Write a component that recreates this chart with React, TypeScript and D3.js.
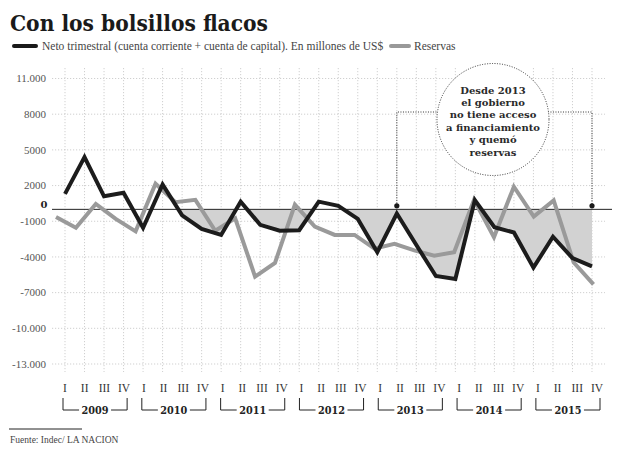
import React from "react";
import * as d3 from "d3";

const years = ["2009", "2010", "2011", "2012", "2013", "2014", "2015"];
const quarters = ["I", "II", "III", "IV"];
const neto = [1300, 4400, 1100, 1400, -1550, 2100, -500, -1650, -2150, 650, -1300, -1800, -1750, 650, 300, -800, -3600, -350, -3000, -5600, -5850, 780, -1500, -1950, -4900, -2300, -4100, -4800];
const reservas = [-650, -1550, 450, -800, -1850, 2150, 600, 800, -1800, -750, -5650, -4500, 400, -1450, -2150, -2150, -3300, -2900, -3450, -3900, -3600, 800, -2350, 1900, -600, 750, -4450, -6300];
const yTicks = [11000, 8000, 5000, 2000, -1000, -4000, -7000, -10000, -13000];
const yTickLabels = ["11.000", "8000", "5000", "2000", "-1000", "-4000", "-7000", "-10.000", "-13.000"];
const annotationLines = ["Desde 2013", "el gobierno", "no tiene acceso", "a financiamiento", "y quemó", "reservas"];
const shadeStart = 5;
const annotStart = 17;

const SERIF = "'Liberation Serif', 'DejaVu Serif', serif";
const SLAB = "'DejaVu Serif', 'Liberation Serif', serif";

export default function App() {
  const W = 620, H = 455;
  const y = d3.scaleLinear().domain([-13000, 11000]).range([364, 78.5]);
  const n = neto.length;
  const xB = d3.scaleLinear().domain([0, n - 1]).range([65, 592]);
  const xG = d3.scaleLinear().domain([0, n - 1]).range([56, 593.5]);
  const xL = d3.scaleLinear().domain([0, n - 1]).range([65, 597]);
  const y0 = y(0);

  const lineB = d3.line<number>().x((_, i) => xB(i)).y((d) => y(d));
  const lineG = d3.line<number>().x((_, i) => xG(i)).y((d) => y(d));
  const shadeData = neto.map((v, i) => ({ i, v })).filter((d) => d.i >= shadeStart);
  const area = d3
    .area<{ i: number; v: number }>()
    .x((d) => xB(d.i))
    .y0(y0)
    .y1((d) => y(d.v));

  const circ = { cx: 493, cy: 119.5, r: 56 };
  const bracketY = 112;
  const dotY = y0 - 3.5;

  return (
    <svg width={W} height={H} style={{ position: "absolute", left: 0, top: 0, background: "#fff" }}>
      <defs>
        <clipPath id="below0">
          <rect x={0} y={y0} width={W} height={H - y0} />
        </clipPath>
      </defs>
      <rect x={0} y={0} width={W} height={H} fill="#fff" />
      {/* title */}
      <text x={10} y={31} fontFamily={SLAB} fontWeight="bold" fontSize={22} fill="#1a1a1a" textLength={258} lengthAdjust="spacingAndGlyphs">
        Con los bolsillos flacos
      </text>
      {/* legend */}
      <line x1={14} x2={36} y1={46} y2={46} stroke="#1a1a1a" strokeWidth={4} strokeLinecap="round" />
      <text x={42} y={50} fontFamily={SERIF} fontSize={11.5} fill="#444">
        Neto trimestral (cuenta corriente + cuenta de capital). En millones de US$
      </text>
      <line x1={391} x2={409} y1={46} y2={46} stroke="#999" strokeWidth={4} strokeLinecap="round" />
      <text x={414} y={50} fontFamily={SERIF} fontSize={11.5} fill="#444">
        Reservas
      </text>

      {/* vertical gridlines */}
      {neto.map((_, i) => (
        <line key={"vg" + i} x1={xB(i)} x2={xB(i)} y1={68} y2={372} stroke="#bbb" strokeWidth={0.7} strokeDasharray="1.2,1.8" />
      ))}
      {/* horizontal gridlines */}
      {yTicks.map((t, i) => (
        <g key={"hg" + i}>
          <line x1={52} x2={605} y1={y(t)} y2={y(t)} stroke="#bbb" strokeWidth={0.7} strokeDasharray="1.2,1.8" />
          <text x={46} y={y(t)} dy="0.35em" textAnchor="end" fontFamily={SERIF} fontSize={11} fill="#555">
            {yTickLabels[i]}
          </text>
        </g>
      ))}
      <text x={44} y={y0 - 1} textAnchor="middle" fontFamily={SLAB} fontWeight="bold" fontSize={10} fill="#222">
        0
      </text>

      {/* shaded area */}
      <path d={area(shadeData) || ""} fill="#d2d2d2" clipPath="url(#below0)" />

      {/* zero line */}
      <line x1={52} x2={612} y1={y0} y2={y0} stroke="#222" strokeWidth={1} />

      {/* annotation bracket */}
      <path
        d={`M${xB(annotStart)},${dotY} V${bracketY} H${xB(n - 1)} V${dotY}`}
        fill="none"
        stroke="#333"
        strokeWidth={1}
        strokeDasharray="1,1.5"
      />
      <circle cx={xB(annotStart)} cy={dotY} r={2.6} fill="#1a1a1a" />
      <circle cx={xB(n - 1)} cy={dotY} r={2.6} fill="#1a1a1a" />
      <circle cx={circ.cx} cy={circ.cy} r={circ.r} fill="#fff" stroke="#333" strokeWidth={1} strokeDasharray="1,1.5" />
      {annotationLines.map((l, i) => (
        <text key={"a" + i} x={circ.cx} y={93.5 + i * 12.4} textAnchor="middle" fontFamily={SLAB} fontWeight="bold" fontSize={10} fill="#2a2a2a">
          {l}
        </text>
      ))}

      {/* series */}
      <path d={lineG(reservas) || ""} fill="none" stroke="#9a9a9a" strokeWidth={4} strokeLinejoin="miter" />
      <path d={lineB(neto) || ""} fill="none" stroke="#1c1c1c" strokeWidth={4} strokeLinejoin="miter" />

      {/* x labels */}
      {neto.map((_, i) => (
        <text key={"q" + i} x={xL(i)} y={392} textAnchor="middle" fontFamily={SERIF} fontSize={11.5} fill="#333">
          {quarters[i % 4]}
        </text>
      ))}
      {years.map((yr, k) => {
        const a = xL(k * 4) - 2;
        const b = xL(k * 4 + 3) + 3;
        const m = (a + b) / 2;
        return (
          <g key={"yr" + k}>
            <path d={`M${a},398 V410 H${b} V398`} fill="none" stroke="#222" strokeWidth={1} />
            <rect x={m - 16} y={403} width={32} height={12} fill="#fff" />
            <text x={m} y={414} textAnchor="middle" fontFamily={SLAB} fontWeight="bold" fontSize={11} fill="#222" textLength={27} lengthAdjust="spacingAndGlyphs">
              {yr}
            </text>
          </g>
        );
      })}

      {/* source */}
      <line x1={9} x2={82} y1={429} y2={429} stroke="#222" strokeWidth={1} />
      <text x={10} y={443} fontFamily={SERIF} fontSize={9.5} fill="#444">
        Fuente: Indec/ LA NACION
      </text>
    </svg>
  );
}
